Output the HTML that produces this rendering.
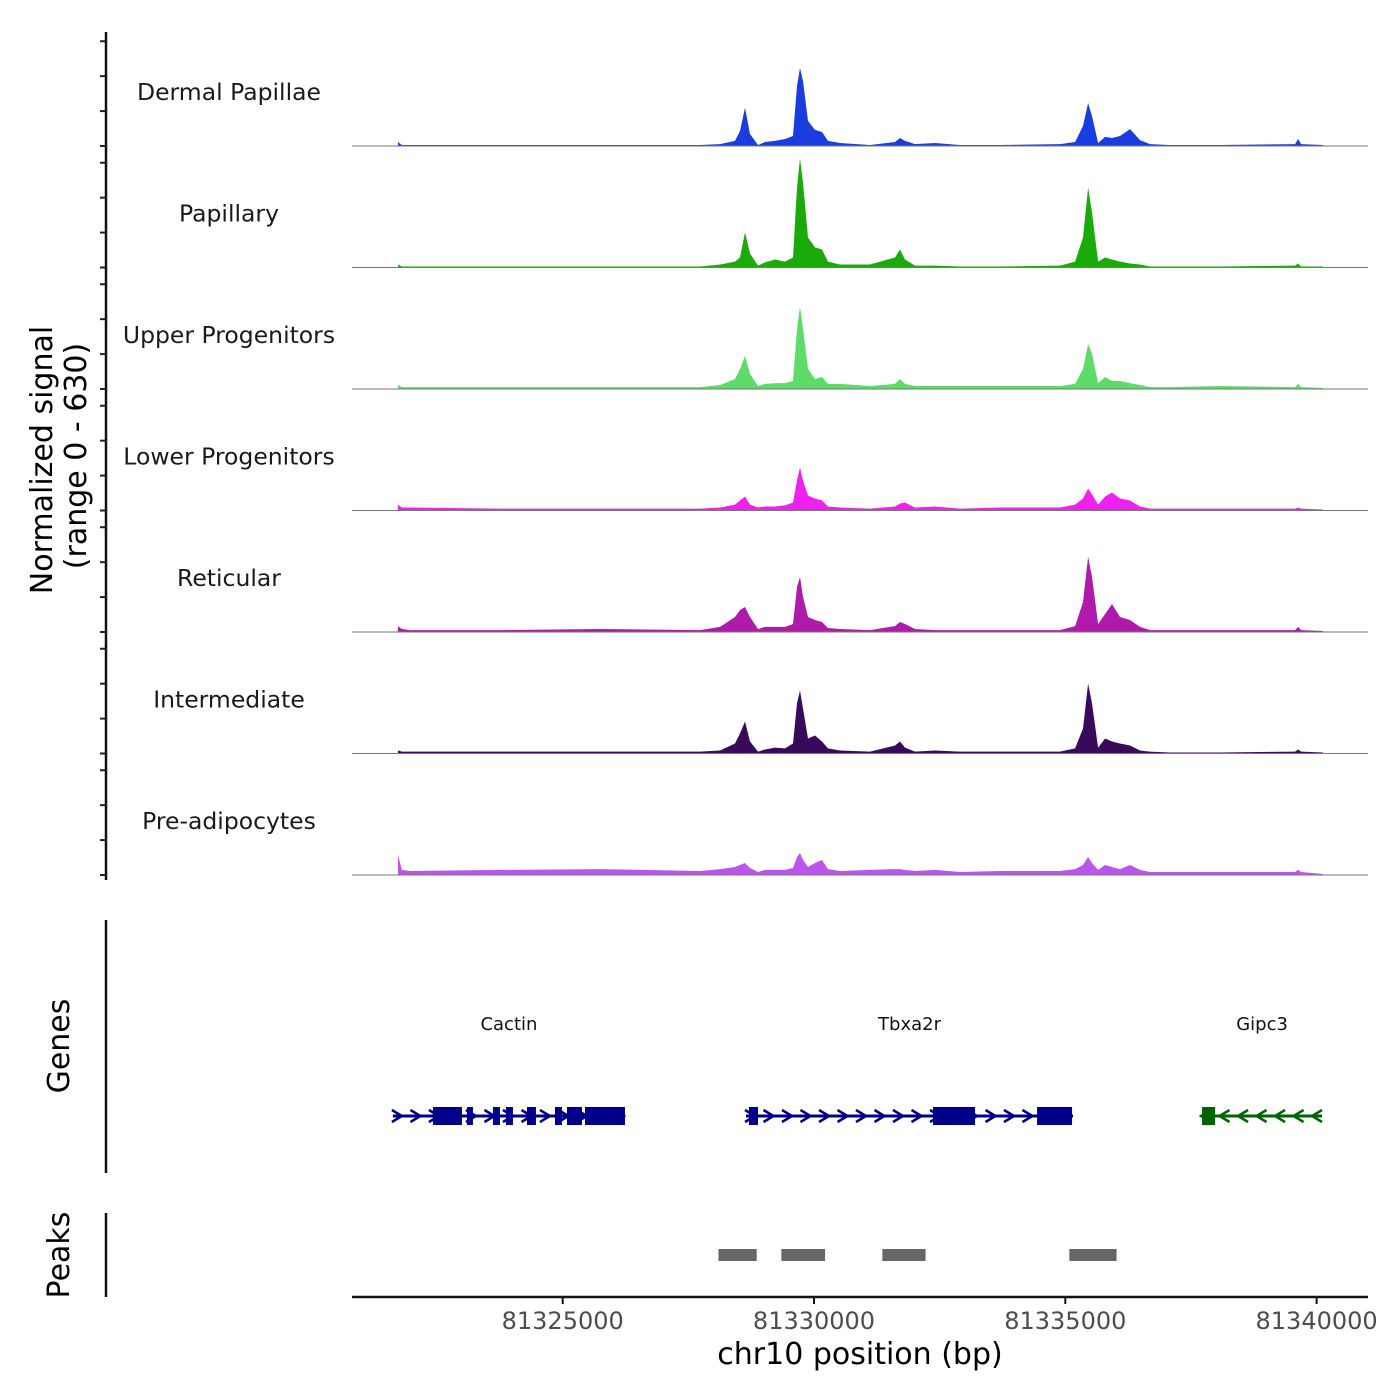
<!DOCTYPE html>
<html><head><meta charset="utf-8"><style>
body{margin:0;background:#fff}
svg{display:block;font-family:"DejaVu Sans","Liberation Sans",sans-serif}
</style></head><body>
<svg id="chart" width="1400" height="1400" viewBox="0 0 1400 1400">
<g id="tracks"></g>
<g id="genes"></g>
<g id="peaks"></g>
<g id="axes"></g>
</svg>
<script>
const trackNames = ["Dermal Papillae","Papillary","Upper Progenitors","Lower Progenitors","Reticular","Intermediate","Pre-adipocytes"];
const trackColors = ["#1a3de0","#1aaa0a","#5ddc6a","#ee22ee","#b01aaa","#3a0a5a","#bb55ee"];
const positions = [81321722,81321801,81321960,81323751,81325741,81327731,81328129,81328428,81328527,81328627,81328726,81328886,81329025,81329224,81329423,81329582,81329662,81329721,81329781,81329881,81330020,81330159,81330279,81330517,81331114,81331612,81331711,81331811,81332010,81332408,81332905,81333701,81334895,81335194,81335353,81335453,81335532,81335652,81335791,81335930,81336089,81336288,81336487,81336686,81337084,81338079,81339572,81339632,81339691,81340129];
const sigDermal = [23,6,6,6,6,6,11,29,86,218,69,6,23,29,40,57,344,447,372,143,92,80,29,17,6,23,46,29,11,17,6,6,11,23,115,246,172,17,52,46,57,97,34,11,6,6,11,40,11,6];
const sigPapillary = [17,6,6,6,6,6,17,34,57,201,80,11,29,46,34,57,458,625,487,172,115,103,34,17,17,57,103,46,11,11,6,6,11,34,172,458,315,34,57,46,34,23,17,6,6,6,11,23,6,6];
const sigUpper = [23,11,11,11,11,11,23,57,115,189,86,17,29,34,34,46,344,470,344,115,57,69,29,29,17,29,57,29,17,17,17,17,17,29,115,258,201,34,69,46,46,34,23,11,11,17,11,29,11,6];
const sigLower = [34,17,17,11,11,11,17,34,57,80,34,17,23,23,29,46,172,246,172,86,69,57,23,17,11,23,40,46,17,23,11,17,17,34,69,126,92,34,80,103,69,57,23,11,11,11,11,17,11,6];
const sigReticular = [34,17,11,11,17,11,29,86,126,143,86,17,29,29,29,46,258,315,201,86,69,57,23,17,11,34,57,46,17,11,11,11,11,34,172,430,315,46,103,160,86,69,29,11,11,11,11,29,11,6];
const sigIntermediate = [17,11,11,11,11,11,17,57,115,183,69,11,23,34,29,57,287,361,258,86,103,69,29,17,11,46,69,34,11,17,11,11,11,29,143,401,287,34,86,69,57,46,17,11,6,6,11,23,11,6];
const sigPre = [115,29,23,29,34,23,34,46,57,69,40,17,29,29,29,40,103,126,86,46,69,86,34,23,29,34,34,29,23,29,17,23,23,34,57,103,69,29,57,46,34,57,29,17,17,17,17,29,17,6];
const signals = [sigDermal,sigPapillary,sigUpper,sigLower,sigReticular,sigIntermediate,sigPre];
const yTicks = [0,200,400,600];
const xTicks = [81325000,81330000,81335000,81340000];
const peakStarts = [81328100,81329350,81331360,81335080];
const peakEnds = [81328860,81330220,81332220,81336020];
const geneNames = ["Cactin","Tbxa2r","Gipc3"];
const geneStarts = [81321622,81328647,81337721];
const geneEnds = [81326239,81335154,81340109];
const geneStrands = [1,1,-1];
const exonStarts = [81322418,81323095,81323612,81323871,81324289,81324846,81325085,81325443,81328706,81332368,81334438,81337721];
const exonEnds = [81322995,81323214,81323751,81324010,81324468,81324985,81325383,81326239,81328886,81333204,81335134,81337980];
const exonGene = [0,0,0,0,0,0,0,0,1,1,1,2];

const NS="http://www.w3.org/2000/svg";
function el(t,a,p){const e=document.createElementNS(NS,t);for(const k in a)e.setAttribute(k,a[k]);p.appendChild(e);return e;}
const X0=352,X1=1368;
function xs(bp){return 814+(bp-81330000)*251.3/5000;}
const trackH=110, yMax=630;
const baselines=[146,267.5,389,510.5,632,753.5,875];
function ys(v,i){return baselines[i]-v*trackH/yMax;}

const gT=document.getElementById('tracks');
signals.forEach((s,i)=>{
  let d=`M${xs(positions[0])},${baselines[i]}`;
  positions.forEach((p,j)=>{d+=` L${xs(p).toFixed(1)},${ys(s[j],i).toFixed(1)}`;});
  d+=` L${xs(positions[positions.length-1])},${baselines[i]} Z`;
  const a=el('path',{d:d,fill:trackColors[i]},gT);
  
  
  const b=el('line',{x1:X0,x2:X1,y1:baselines[i],y2:baselines[i],stroke:'#777','stroke-width':1},gT);
  
  
  const t=el('text',{x:229,y:baselines[i]-46,'text-anchor':'middle','font-size':23.5,fill:'#1a1a1a'},gT);
  t.textContent=trackNames[i];
  
  
  yTicks.forEach(v=>{
    const tk=el('line',{x1:100,x2:106,y1:ys(v,i),y2:ys(v,i),stroke:'#222','stroke-width':2},gT);
    
    
  });
});

const gG=document.getElementById('genes');
const gy=1116;
geneNames.forEach((n,i)=>{
  const col=i===2?'#006400':'#00008b';
  const l=el('line',{x1:xs(geneStarts[i]),x2:xs(geneEnds[i]),y1:gy,y2:gy,stroke:col,'stroke-width':3},gG);
  
  
  const t=el('text',{x:(xs(geneStarts[i])+xs(geneEnds[i]))/2,y:1030,'text-anchor':'middle','font-size':18,fill:'#111'},gG);
  t.textContent=n;
  
  
  for(let x=xs(geneStarts[i])+4;x<=xs(geneEnds[i])-2;x+=18.5){
    const dx=geneStrands[i]*5;
    const ar=el('polyline',{points:`${x-dx},${gy-6} ${x+dx},${gy} ${x-dx},${gy+6}`,fill:'none',stroke:col,'stroke-width':2.5},gG);
    
    
  }
});
exonStarts.forEach((s,j)=>{
  const col=exonGene[j]===2?'#006400':'#00008b';
  const r=el('rect',{x:xs(s),y:gy-9,width:xs(exonEnds[j])-xs(s),height:18,fill:col},gG);
  
  
});

const gP=document.getElementById('peaks');
peakStarts.forEach((s,j)=>{
  const r=el('rect',{x:xs(s),y:1249,width:xs(peakEnds[j])-xs(s),height:12,fill:'#666'},gP);
  
  
});

const gA=document.getElementById('axes');
[[32,880],[920,1173],[1213,1297]].forEach(([a,b])=>{
  const l=el('line',{x1:106,x2:106,y1:a,y2:b,stroke:'#111','stroke-width':2.5},gA);
  
  
});
const xl=el('line',{x1:X0,x2:X1,y1:1297,y2:1297,stroke:'#111','stroke-width':2.5},gA);


xTicks.forEach(v=>{
  const tk=el('line',{x1:xs(v),x2:xs(v),y1:1297,y2:1304,stroke:'#111','stroke-width':2},gA);
  
  
  const t=el('text',{x:xs(v),y:1329,'text-anchor':'middle','font-size':24,fill:'#4d4d4d'},gA);
  t.textContent=v;
  
  
});
const xt=el('text',{x:860,y:1364,'text-anchor':'middle','font-size':30,fill:'#000'},gA);
xt.textContent='chr10 position (bp)';


function rot(txt,x,y,name){
  const t=el('text',{x:x,y:y,'text-anchor':'middle','font-size':30,fill:'#000',transform:`rotate(-90 ${x} ${y})`},gA);
  t.textContent=txt;
  
  
}
rot('Normalized signal',52,460,'y-axis-title');
rot('(range 0 - 630)',86,456,'y-axis-subtitle');
rot('Genes',69,1046,'genes-axis-title');
rot('Peaks',69,1255,'peaks-axis-title');
</script>
</body></html>
